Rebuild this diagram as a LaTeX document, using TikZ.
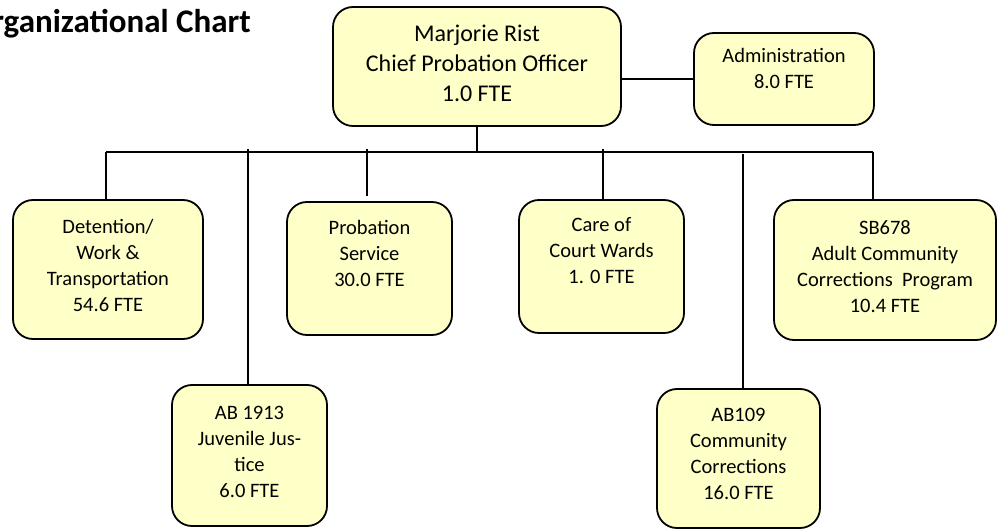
\documentclass[tikz,border=0pt]{standalone}
\usepackage{fontspec}
\usetikzlibrary{calc}
\setmainfont{Carlito}
\definecolor{boxfill}{HTML}{FFFFC8}
\newcommand\lnstrut{\rule[-0.3\baselineskip]{0pt}{\baselineskip}}
\tikzset{
  unitbox/.style={draw=black, fill=boxfill, line width=1.8pt, rounded corners=20pt, inner sep=0pt},
  boxtext/.style={align=center, inner sep=0pt, font=\fontsize{20.5}{26}\selectfont,
    execute at begin node=\lnstrut, execute at end node=\lnstrut},
  headtext/.style={boxtext, font=\fontsize{24}{30}\selectfont},
  link/.style={draw=black, line width=1.8pt}
}
\begin{document}
\begin{tikzpicture}[x=1pt, y=-1pt]
\useasboundingbox (0,0) rectangle (1003,529);

% title (left edge runs off the page)
\node[anchor=base east, inner sep=0pt, font=\fontsize{33}{38}\selectfont\bfseries] (title) at (251,33) {Organizational Chart};

% boxes
\node[unitbox, minimum width=288pt, minimum height=119pt] (main) at (477,66.5) {};
\node[headtext] (main-t) at (477,68) {Marjorie Rist\\Chief Probation Officer\\1.0 FTE};

\node[unitbox, minimum width=180pt, minimum height=92pt] (admin) at (784,79) {};
\node[boxtext] (admin-t) at (784,72) {Administration\\8.0 FTE};

\node[unitbox, minimum width=190pt, minimum height=139pt] (det) at (108,269.5) {};
\node[boxtext] (det-t) at (108,269) {Detention/\\Work \&\\Transportation\\54.6 FTE};

\node[unitbox, minimum width=165pt, minimum height=133pt] (prob) at (369.5,268.5) {};
\node[boxtext] (prob-t) at (369.5,257.5) {Probation\\Service\\30.0 FTE};

\node[unitbox, minimum width=165pt, minimum height=133pt] (care) at (601.5,266.5) {};
\node[boxtext] (care-t) at (601.5,254.5) {Care of\\Court Wards\\1. 0 FTE};

\node[unitbox, minimum width=222pt, minimum height=140pt] (sb) at (885,270) {};
\node[boxtext] (sb-t) at (885,270) {SB678\\Adult Community\\Corrections~~Program\\10.4 FTE};

\node[unitbox, minimum width=155pt, minimum height=141pt] (ab1913) at (249.5,455.5) {};
\node[boxtext] (ab1913-t) at (249.5,456) {AB 1913\\Juvenile Jus-\\tice\\6.0 FTE};

\node[unitbox, minimum width=163pt, minimum height=139pt] (ab109) at (738.5,458.5) {};
\node[boxtext] (ab109-t) at (738.5,458) {AB109\\Community\\Corrections\\16.0 FTE};

% distribution bus
\coordinate (busL) at (106,152);
\coordinate (busR) at (873,152);
\coordinate (tapJ) at (248,149);
\coordinate (tapP) at (367,149);
\coordinate (tapC) at (603,149);
\coordinate (tapA) at (743,154);

\draw[link] (admin.west) -- (admin.west -| main.east);
\draw[link] (main.south) -- (main.south |- busL);
\draw[link] (busL) -- (busR);
\draw[link] (busL) -- (busL |- det.north);
\draw[link] (tapJ) -- (tapJ |- ab1913.north);
\draw[link] (tapP) -- ($(tapP |- prob.north)+(0,-5)$);
\draw[link] (tapC) -- (tapC |- care.north);
\draw[link] (tapA) -- (tapA |- ab109.north);
\draw[link] (busR) -- (busR |- sb.north);
\end{tikzpicture}
\end{document}
